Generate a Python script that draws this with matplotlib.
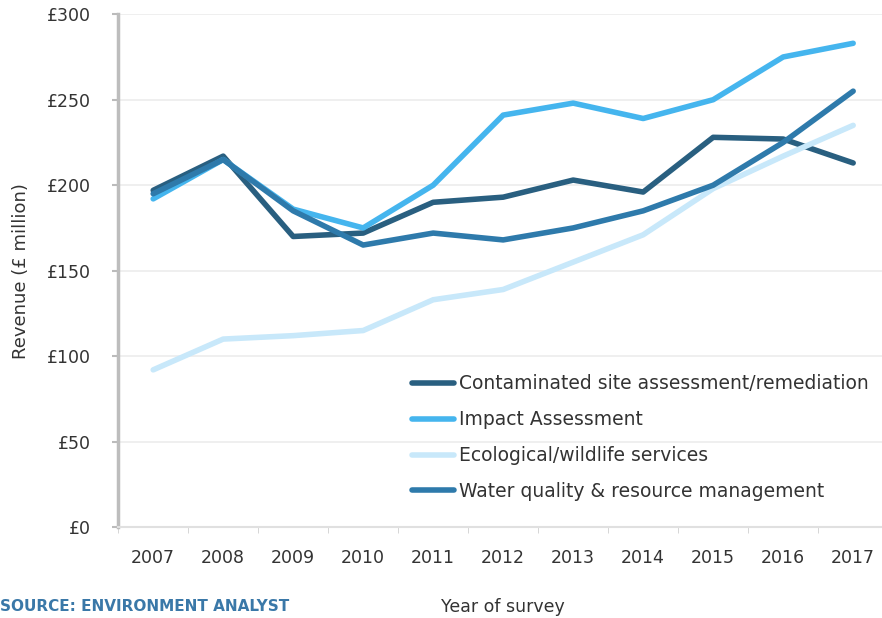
import matplotlib.pyplot as plt
import numpy as np

years = ['2007', '2008', '2009', '2010', '2011', '2012', '2013', '2014', '2015', '2016', '2017']

contaminated = [197, 217, 170, 172, 190, 193, 203, 196, 228, 227, 213]
impact = [192, 215, 186, 175, 200, 241, 248, 239, 250, 275, 283]
ecological = [92, 110, 112, 115, 133, 139, 155, 171, 198, 217, 235]
water = [195, 215, 185, 165, 172, 168, 175, 185, 200, 225, 255]

series_names = ['Contaminated site assessment/remediation', 'Impact Assessment',
                'Ecological/wildlife services', 'Water quality & resource management']
colors = ['#295f80', '#45b5ee', '#c8e8fa', '#2e7aab']

fig = plt.figure(figsize=(8.82, 6.18), dpi=100)
ax = fig.add_axes([0.134, 0.147, 0.873, 0.83])

x = np.arange(len(years))
for vals, name, c in zip([contaminated, impact, ecological, water], series_names, colors):
    ax.plot(x, vals, color=c, lw=4, label=name, solid_capstyle='round', solid_joinstyle='round')

ax.set_xlim(-0.5, len(years) - 0.5)
ax.set_ylim(0, 300)
ax.set_yticks(range(0, 301, 50))
ax.set_yticklabels(['£%d' % v for v in range(0, 301, 50)], fontsize=12.5, color='#333333')
ax.set_xticks(x)
ax.set_xticklabels(years, fontsize=12.5, color='#333333')
ax.set_xticks(np.arange(-0.5, len(years), 1), minor=True)
ax.tick_params(axis='x', which='major', length=0, pad=16)
ax.tick_params(axis='x', which='minor', length=4, color='#d0d0d0')
ax.tick_params(axis='y', length=4, color='#bbbbbb', width=1.5, pad=16)

ax.grid(axis='y', color='#ececec', lw=1.2)
ax.set_axisbelow(True)
for s in ['top', 'right']:
    ax.spines[s].set_visible(False)
ax.spines['left'].set_color('#bdbdbd')
ax.spines['left'].set_linewidth(2.5)
ax.spines['bottom'].set_color('#e0e0e0')
ax.spines['bottom'].set_linewidth(1.5)

ax.set_ylabel('Revenue (£ million)', fontsize=13, color='#333333', labelpad=12)
ax.set_xlabel('Year of survey', fontsize=12.5, color='#333333', labelpad=22)

leg = ax.legend(loc='lower left', bbox_to_anchor=(0.36, 0.018), frameon=False,
                fontsize=13.5, handlelength=2.2, handletextpad=0.3, labelspacing=0.9)
for t in leg.get_texts():
    t.set_color('#333333')

fig.text(0.0, 0.012, 'SOURCE: ENVIRONMENT ANALYST', fontsize=11, fontweight='bold', color='#3a78a8')

fig.savefig('out.png', dpi=100)
